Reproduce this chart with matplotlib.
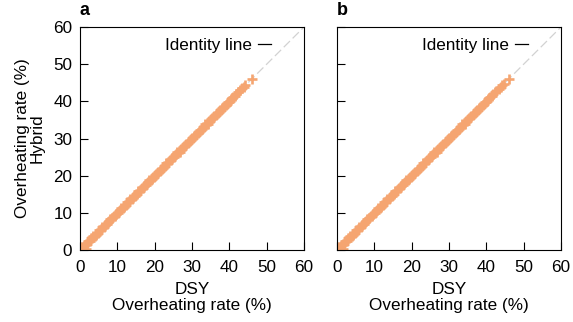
import matplotlib
matplotlib.use("Agg")
import matplotlib.pyplot as plt
from matplotlib.lines import Line2D

plt.rcParams['font.family'] = ['Liberation Sans', 'DejaVu Sans']
plt.rcParams['font.size'] = 12.3

# DSY vs Hybrid overheating rate (%) -- dense body of the cloud (shared)
dsy_body = [0.0, 0.3, 0.6, 0.9, 1.2, 1.5, 1.8, 2.1, 2.4, 2.7,
            3.0, 3.3, 3.6, 3.9, 4.2, 4.5, 4.8, 5.1, 5.4, 5.7,
            6.0, 6.3, 6.6, 6.9, 7.2, 7.5, 7.8, 8.1, 8.4, 8.7,
            9.0, 9.3, 9.6, 9.9, 10.2, 10.5, 10.8, 11.1, 11.4, 11.7,
            12.0, 12.3, 12.6, 12.9, 13.2, 13.5, 13.8, 14.1, 14.4, 14.7,
            15.0, 15.3, 15.6, 15.9, 16.2, 16.5, 16.8, 17.1, 17.4, 17.7,
            18.0, 18.3, 18.6, 18.9, 19.2, 19.5, 19.8, 20.1, 20.4, 20.7,
            21.0, 21.3, 21.6, 21.9, 22.2, 22.5, 22.8, 23.1, 23.4, 23.7,
            24.0, 24.3, 24.6, 24.9, 25.2, 25.5, 25.8, 26.1, 26.4, 26.7,
            27.0, 27.3, 27.6, 27.9, 28.2, 28.5, 28.8, 29.1, 29.4, 29.7,
            30.0, 30.3, 30.6, 30.9, 31.2, 31.5, 31.8, 32.1, 32.4, 32.7,
            33.0, 33.3, 33.6, 33.9, 34.2, 34.5, 34.8, 35.1, 35.4, 35.7,
            36.0, 36.3, 36.6, 36.9, 37.2, 37.5, 37.8, 38.1, 38.4, 38.7,
            39.0, 39.3, 39.6, 39.9, 40.2, 40.5,
            1.0, 1.6, 0.0]
hybrid_body = [0.1, 0.2, 0.8, 0.9, 1.0, 1.6, 1.7, 2.3, 2.4, 2.5,
               3.1, 3.2, 3.8, 3.9, 4.0, 4.6, 4.7, 5.3, 5.4, 5.5,
               6.1, 6.2, 6.8, 6.9, 7.0, 7.6, 7.7, 8.3, 8.4, 8.5,
               9.1, 9.2, 9.8, 9.9, 10.0, 10.6, 10.7, 11.3, 11.4, 11.5,
               12.1, 12.2, 12.8, 12.9, 13.0, 13.6, 13.7, 14.3, 14.4, 14.5,
               15.1, 15.2, 15.8, 15.9, 16.0, 16.6, 16.7, 17.3, 17.4, 17.5,
               18.1, 18.2, 18.8, 18.9, 19.0, 19.6, 19.7, 20.3, 20.4, 20.5,
               21.1, 21.2, 21.8, 21.9, 22.0, 22.6, 22.7, 23.3, 23.4, 23.5,
               24.1, 24.2, 24.8, 24.9, 25.0, 25.6, 25.7, 26.3, 26.4, 26.5,
               27.1, 27.2, 27.8, 27.9, 28.0, 28.6, 28.7, 29.3, 29.4, 29.5,
               30.1, 30.2, 30.8, 30.9, 31.0, 31.6, 31.7, 32.3, 32.4, 32.5,
               33.1, 33.2, 33.8, 33.9, 34.0, 34.6, 34.7, 35.3, 35.4, 35.5,
               36.1, 36.2, 36.8, 36.9, 37.0, 37.6, 37.7, 38.3, 38.4, 38.5,
               39.1, 39.2, 39.8, 39.9, 40.0, 40.6,
               0.0, 0.4, 0.9]

# sparse upper ends
tail_dsy_a = [40.8, 41.1, 41.5, 41.9, 42.4, 42.9, 43.4, 43.8, 44.2, 46.0]
tail_hyb_a = [40.9, 41.3, 41.4, 42.0, 42.5, 43.0, 43.5, 43.9, 44.4, 46.0]
tail_dsy_b = [40.7, 41.0, 41.4, 41.8, 42.2, 42.7, 43.3, 43.8, 44.3, 44.7, 46.0]
tail_hyb_b = [40.8, 41.2, 41.5, 42.0, 42.4, 42.8, 43.4, 43.9, 44.5, 44.8, 46.0]

identity = [0, 60]
ticks = [0, 10, 20, 30, 40, 50, 60]
orange = '#f5a571'

fig = plt.figure(figsize=(5.73, 3.22), dpi=100)
ax_a = fig.add_axes([0.1396, 0.2236, 0.391, 0.6925])
ax_b = fig.add_axes([0.5881, 0.2236, 0.391, 0.6925])

panels = [(ax_a, 'a', dsy_body + tail_dsy_a, hybrid_body + tail_hyb_a),
          (ax_b, 'b', dsy_body + tail_dsy_b, hybrid_body + tail_hyb_b)]

for ax, letter, x, y in panels:
    ax.plot(identity, identity, color='#d2d2d2', lw=0.9, ls=(0, (7, 3)), zorder=1)
    ax.plot(x, y, ls='none', marker='+', ms=7, mew=1.9, color=orange, zorder=2)
    ax.set_xlim(0, 60)
    ax.set_ylim(0, 60)
    ax.set_xticks(ticks)
    ax.set_yticks(ticks)
    ax.tick_params(axis='x', direction='in', length=5.5, width=0.8, pad=7)
    ax.tick_params(axis='y', direction='in', length=5.5, width=0.8, pad=5.5)
    for s in ax.spines.values():
        s.set_linewidth(0.8)
    ax.set_xlabel('DSY\nOverheating rate (%)', linespacing=1.12, labelpad=5)
    ax.text(0.0, 1.035, letter, transform=ax.transAxes, fontweight='bold',
            fontsize=13, ha='left', va='bottom')
    handle = Line2D([0], [0], color='black', lw=0.9)
    ax.legend([handle], ['Identity line'], loc='upper right', frameon=False,
              markerfirst=False, handlelength=0.8, handletextpad=0.35,
              bbox_to_anchor=(0.9, 0.995), borderaxespad=0.2)

ax_a.set_ylabel('Overheating rate (%)\nHybrid', linespacing=1.0, labelpad=6)
ax_b.tick_params(labelleft=False)

fig.savefig('out.png', dpi=100)
